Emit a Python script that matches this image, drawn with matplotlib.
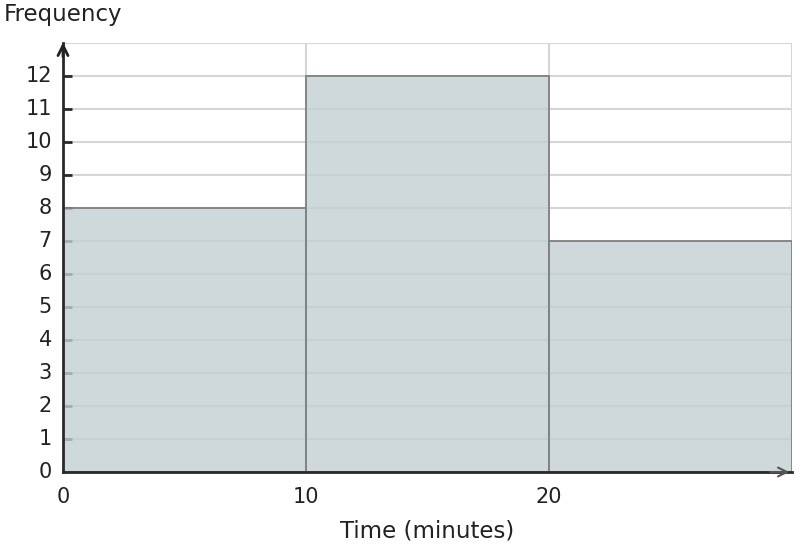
import matplotlib
matplotlib.use("Agg")
import matplotlib.pyplot as plt
import matplotlib.transforms as mtransforms
import numpy as np

bin_edges = [0, 10, 20, 30]
frequencies = [8, 12, 7]
x_tick_labels = ["0", "10", "20"]
y_ticks = list(range(0, 13))

W, H = 796, 548
fig = plt.figure(figsize=(W / 100, H / 100), dpi=100)
ax = fig.add_axes([63 / W, (H - 472) / H, (792 - 63) / W, (472 - 43) / H])

ax.set_xlim(0, 30)
ax.set_ylim(0, 13)

# grid
for y in range(1, 14):
    ax.axhline(y, color="#d6d6d6", lw=1.5, zorder=0)
for x in [10, 20, 30]:
    ax.axvline(x, color="#d6d6d6", lw=1.5, zorder=0)

# y tick marks (short lines inside the axes)
for y in y_ticks[1:]:
    ax.plot([0, 0.35], [y, y], color="#2a2a2a", lw=2, zorder=1, solid_capstyle="butt")

widths = np.diff(bin_edges)
ax.bar(bin_edges[:-1], frequencies, width=widths, align="edge",
       facecolor=(0.77, 0.81, 0.82, 0.8), edgecolor="#7f8080", linewidth=1.3, zorder=2)

ax.set_yticks(y_ticks)
ax.set_yticklabels([str(v) for v in y_ticks], fontsize=15, color="#222222")
ax.set_xticks(bin_edges[:-1])
ax.set_xticklabels(x_tick_labels, fontsize=15, color="#222222")
ax.tick_params(axis="both", length=0)
ax.tick_params(axis="y", pad=8)
ax.tick_params(axis="x", pad=11)

offset = mtransforms.ScaledTranslation(0, 2 / 100, fig.dpi_scale_trans)
for lbl in ax.get_yticklabels():
    lbl.set_transform(lbl.get_transform() + offset)

for s in ["top", "right"]:
    ax.spines[s].set_visible(False)
for s in ["left", "bottom"]:
    ax.spines[s].set_color("#2a2a2a")
    ax.spines[s].set_linewidth(2)
    ax.spines[s].set_zorder(3)

# arrows
ax.annotate("", xy=(0, 13.1), xytext=(0, 12.5), xycoords="data",
            arrowprops=dict(arrowstyle="->", color="#222222", lw=2, mutation_scale=18),
            annotation_clip=False, zorder=4)
ax.annotate("", xy=(30, 0), xytext=(29, 0), xycoords="data",
            arrowprops=dict(arrowstyle="->", color="#555555", lw=1.5, mutation_scale=16),
            annotation_clip=False, zorder=4)

ax.set_xlabel("Time (minutes)", fontsize=16.5, color="#222222", labelpad=9)
fig.text(4 / W, 1 - 3 / H, "Frequency", fontsize=16.5, color="#222222", ha="left", va="top")

fig.savefig("out.png", dpi=100)
